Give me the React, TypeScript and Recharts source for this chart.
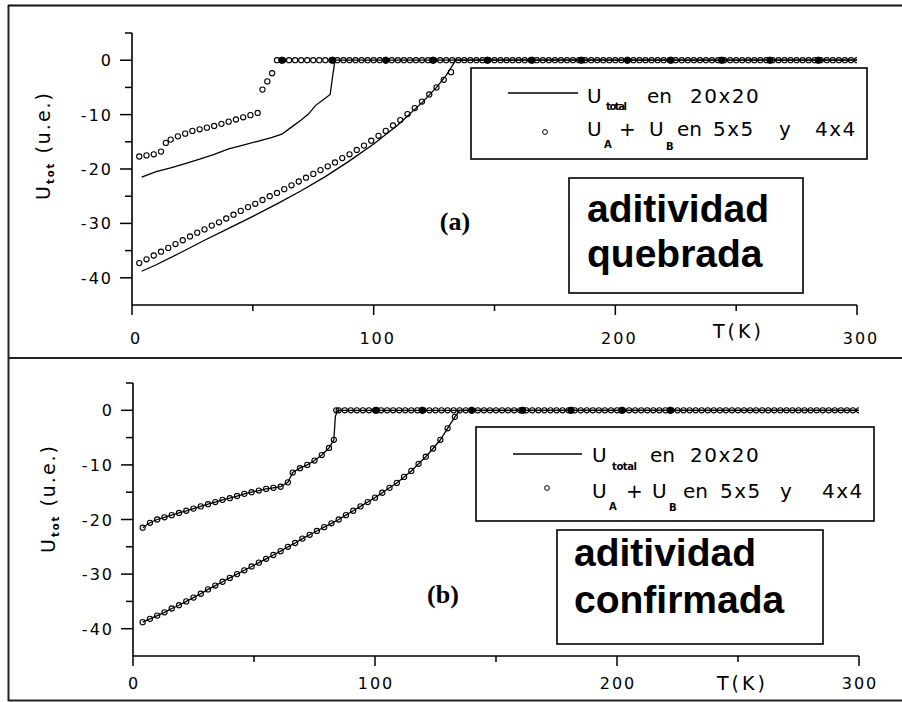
import { ComposedChart, Line, XAxis, YAxis } from 'recharts';

const SANS = '"DejaVu Sans", Verdana, sans-serif';
const BOLD = '"Liberation Sans", Arial, sans-serif';
const SERIF = '"Liberation Serif", "Times New Roman", serif';

type Pt = [number, number];
const rows = (pts: Pt[]) => pts.map(([t, u]) => ({ t, u }));

const xTicks = [0, 50, 100, 150, 200, 250, 300];
const yTicks = [-40, -35, -30, -25, -20, -15, -10, -5, 0, 5];

// temperatures of the points sitting on U = 0
const plateauT = [
  60, 62.5, 65, 67.5, 70, 72.5, 75, 77.5, 80, 82.5, 85, 87.5, 90, 92.5, 95, 97.5,
  100, 102.5, 105, 107.5, 110, 112.5, 115, 117.5, 120, 122.5, 125, 127.5, 130, 132.5,
  135, 137.5, 140, 142.5, 145, 147.5, 150, 152.5, 155, 157.5, 160, 162.5, 165, 167.5,
  170, 172.5, 175, 177.5, 180, 182.5, 185, 187.5, 190, 192.5, 195, 197.5, 200, 202.5,
  205, 207.5, 210, 212.5, 215, 217.5, 220, 222.5, 225, 227.5, 230, 232.5, 235, 237.5,
  240, 242.5, 245, 247.5, 250, 252.5, 255, 257.5, 260, 262.5, 265, 267.5, 270, 272.5,
  275, 277.5, 280, 282.5, 285, 287.5, 290, 292.5, 295, 297.5, 300,
];

// (a) aditividad quebrada
const aSumUpper: Pt[] = [
  [3, -17.7], [6, -17.5], [9, -17.3], [12, -16.8], [14, -15.2], [16, -14.6], [19, -14.0],
  [22, -13.5], [25, -13.0], [28, -12.7], [31, -12.4], [34, -12.1], [37, -11.7], [40, -11.3],
  [43, -10.9], [46, -10.5], [49, -10.1], [52, -9.7], [54, -5.4], [56, -3.9], [58, -2.4],
];
const aSumLower: Pt[] = [
  [3, -37.3], [6, -36.6], [9, -35.9], [12, -35.2], [15, -34.5], [18, -33.8], [21, -33.1],
  [24, -32.4], [27, -31.7], [30, -31.1], [33, -30.4], [36, -29.8], [39, -29.1], [42, -28.4],
  [45, -27.7], [48, -27.0], [51, -26.4], [54, -25.7], [57, -25.0], [60, -24.4], [63, -23.7],
  [66, -23.0], [69, -22.3], [72, -21.6], [75, -20.9], [78, -20.2], [81, -19.5], [84, -18.8],
  [87, -18.0], [90, -17.3], [93, -16.5], [96, -15.7], [99, -14.8], [102, -13.9], [105, -13.0],
  [108, -12.0], [111, -11.0], [114, -9.9], [117, -8.8], [120, -7.6], [123, -6.3], [126, -5.0],
  [129, -3.6], [132, -2.2],
];
const aTotUpper: Pt[] = [
  [4, -21.5], [10, -20.5], [16, -19.8], [22, -19.0], [28, -18.2], [34, -17.3], [40, -16.3],
  [46, -15.6], [52, -14.9], [58, -14.2], [62, -13.6], [66, -12.3], [70, -11.0], [73, -9.9],
  [76, -8.3], [79, -7.3], [82, -6.3], [83, -3.0], [84, 0], [300, 0],
];
const aTotLower: Pt[] = [
  [4, -38.8], [10, -37.6], [20, -35.4], [30, -33.1], [40, -30.9], [50, -28.7], [60, -26.4],
  [70, -24.0], [80, -21.4], [90, -18.5], [100, -15.4], [110, -11.9], [120, -7.8], [126, -5.0],
  [130, -2.8], [134, 0], [300, 0],
];
const aBlobT = [62, 83, 105, 124.5, 147, 165.5, 186, 205, 223, 244, 264, 284];

// (b) aditividad confirmada
const bUpper: Pt[] = [
  [4, -21.5], [7, -20.6], [10, -20.0], [13, -19.6], [16, -19.2], [19, -18.8], [22, -18.4],
  [25, -18.0], [28, -17.6], [31, -17.2], [34, -16.8], [37, -16.4], [40, -16.1], [43, -15.7],
  [46, -15.3], [49, -15.0], [52, -14.7], [55, -14.4], [58, -14.2], [61, -14.0], [64, -13.2],
  [66, -11.4], [69, -10.6], [72, -10.0], [75, -9.2], [78, -8.2], [81, -6.9], [83, -5.4],
];
const bLower: Pt[] = [
  [4, -38.8], [7, -38.2], [10, -37.6], [13, -37.0], [16, -36.3], [19, -35.7], [22, -35.0],
  [25, -34.3], [28, -33.6], [31, -32.8], [34, -32.1], [37, -31.4], [40, -30.7], [43, -30.0],
  [46, -29.3], [49, -28.6], [52, -27.9], [55, -27.2], [58, -26.5], [61, -25.8], [64, -25.0],
  [67, -24.3], [70, -23.5], [73, -22.8], [76, -22.1], [79, -21.4], [82, -20.7], [85, -20.0],
  [88, -19.2], [91, -18.4], [94, -17.6], [97, -16.8], [100, -16.0], [103, -15.1], [106, -14.2],
  [109, -13.3], [112, -12.2], [115, -11.1], [118, -9.8], [121, -8.5], [124, -7.0], [127, -5.4],
  [130, -3.3], [133, -1.2],
];
const bBlobT = [100.5, 119.5, 140, 161, 181, 202, 222];

const aPlateau = plateauT.map((t) => ({ t, u: 0 }));
const bPlateau = [84, ...plateauT.filter((t) => t > 84)].map((t) => ({ t, u: 0 }));

const panelA = {
  top: 0,
  margin: { top: 33, right: 45, bottom: 15, left: 32 },
  labelDx: 4,
  labelDy: 39,
  lines: [rows(aTotUpper), rows(aTotLower)],
  circles: [rows(aSumUpper), rows(aSumLower), aPlateau],
  blobs: aBlobT.map((t) => ({ t, u: 0 })),
};

const panelB = {
  top: 350,
  margin: { top: 33, right: 43, bottom: 14, left: 33 },
  labelDx: 1,
  labelDy: 33,
  lines: [rows([...bUpper, [83.6, -1.2], [84.5, 0], [300, 0]]), rows([...bLower, [135, 0], [300, 0]])],
  circles: [rows(bUpper), rows(bLower), bPlateau],
  blobs: bBlobT.map((t) => ({ t, u: 0 })),
};

const tickFont = { fontFamily: SANS, fontSize: 16, letterSpacing: 2, fill: '#000' };

function Panel({ cfg }: { cfg: typeof panelA }) {
  const XTick = (p: any) => {
    const v = p.payload.value;
    const major = v % 100 === 0;
    return (
      <g>
        <line x1={p.x} x2={p.x} y1={p.y} y2={p.y + (major ? 10 : 6)} stroke="#000" strokeWidth={1.5} />
        {major && (
          <text x={p.x + cfg.labelDx} y={p.y + cfg.labelDy} textAnchor="middle" {...tickFont}>
            {v}
          </text>
        )}
      </g>
    );
  };
  const YTick = (p: any) => {
    const v = p.payload.value;
    const major = v % 10 === 0;
    return (
      <g>
        <line x1={p.x - (major ? 12 : 7)} x2={p.x} y1={p.y} y2={p.y} stroke="#000" strokeWidth={1.5} />
        {major && (
          <text x={p.x - 19} y={p.y + 6} textAnchor="end" {...tickFont}>
            {v}
          </text>
        )}
      </g>
    );
  };

  return (
    <div style={{ position: 'absolute', left: 0, top: cfg.top }}>
      <ComposedChart width={902} height={350} margin={cfg.margin}>
        <XAxis
          type="number"
          dataKey="t"
          domain={[0, 300]}
          ticks={xTicks}
          interval={0}
          allowDataOverflow
          height={30}
          tickSize={0}
          tickMargin={0}
          tickLine={false}
          tick={XTick}
          axisLine={{ stroke: '#000', strokeWidth: 1.6 }}
        />
        <YAxis
          type="number"
          domain={[-45, 5]}
          ticks={yTicks}
          interval={0}
          allowDataOverflow
          width={100}
          tickSize={0}
          tickMargin={0}
          tickLine={false}
          tick={YTick}
          axisLine={{ stroke: '#000', strokeWidth: 1.6 }}
        />
        {cfg.lines.map((d, i) => (
          <Line
            key={'l' + i}
            data={d}
            dataKey="u"
            type="linear"
            stroke="#000"
            strokeWidth={1.3}
            dot={false}
            activeDot={false}
            isAnimationActive={false}
          />
        ))}
        {cfg.circles.map((d, i) => (
          <Line
            key={'c' + i}
            data={d}
            dataKey="u"
            type="linear"
            stroke="none"
            dot={{ r: 2.6, fill: 'none', stroke: '#000', strokeWidth: 1.1 }}
            activeDot={false}
            isAnimationActive={false}
          />
        ))}
        <Line
          data={cfg.blobs}
          dataKey="u"
          stroke="none"
          dot={{ r: 3.2, fill: '#000', stroke: '#000', strokeWidth: 1 }}
          activeDot={false}
          isAnimationActive={false}
        />
      </ComposedChart>
    </div>
  );
}

const legendFont = { fontFamily: SANS, fontSize: 20, fill: '#000' };
const numFont = { ...legendFont, letterSpacing: 1.5 };
const subFont = { fontFamily: SANS, fontSize: 10, fontWeight: 700, fill: '#000' };
const bigFont = { fontFamily: BOLD, fontSize: 39, fontWeight: 700, fill: '#000' };

function Overlay() {
  return (
    <svg
      width={902}
      height={702}
      style={{ position: 'absolute', left: 0, top: 0, pointerEvents: 'none' }}
    >
      {/* frame */}
      <line x1={8.5} x2={8.5} y1={5} y2={701} stroke="#222" strokeWidth={2} />
      <line x1={8} x2={902} y1={5.5} y2={5.5} stroke="#111" strokeWidth={2} />
      <line x1={8} x2={902} y1={358} y2={358} stroke="#222" strokeWidth={2} />
      <line x1={8} x2={902} y1={700.5} y2={700.5} stroke="#222" strokeWidth={2} />

      {/* panel a */}
      <text transform="translate(50,200) rotate(-90)" {...legendFont} fontSize={19} letterSpacing={2}>
        U<tspan {...subFont} dy={4}>tot</tspan>
        <tspan dy={-4}> (u.e.)</tspan>
      </text>
      <text x={455} y={230} textAnchor="middle" fontFamily={SERIF} fontSize={26} fontWeight={700}>
        (a)
      </text>
      <text x={713} y={338} {...legendFont} fontSize={19} letterSpacing={3}>T(K)</text>

      <rect x={471} y={68} width={396} height={91} fill="#fff" stroke="#000" strokeWidth={1.6} />
      <line x1={508} x2={578} y1={93} y2={93} stroke="#000" strokeWidth={1.3} />
      <text x={587} y={103} {...legendFont}>U</text>
      <text x={606} y={110} {...subFont} textLength={21}>total</text>
      <text x={647} y={103} {...legendFont}>en</text>
      <text x={690} y={103} {...numFont}>20x20</text>
      <circle cx={545} cy={132} r={2.4} fill="none" stroke="#000" />
      <text x={587} y={136} {...legendFont}>U</text>
      <text x={604} y={148} {...subFont}>A</text>
      <text x={619} y={136} {...legendFont}>+</text>
      <text x={649} y={136} {...legendFont}>U</text>
      <text x={666} y={150} {...subFont}>B</text>
      <text x={677} y={136} {...legendFont}>en</text>
      <text x={713} y={136} {...numFont}>5x5</text>
      <text x={779} y={136} {...legendFont}>y</text>
      <text x={815} y={136} {...numFont}>4x4</text>

      <rect x={569} y={178} width={234} height={115} fill="#fff" stroke="#000" strokeWidth={1.6} />
      <text x={587} y={222} {...bigFont}>aditividad</text>
      <text x={587} y={267} {...bigFont}>quebrada</text>

      {/* panel b */}
      <text transform="translate(55,553) rotate(-90)" {...legendFont} fontSize={19} letterSpacing={2}>
        U<tspan {...subFont} dy={4}>tot</tspan>
        <tspan dy={-4}> (u.e.)</tspan>
      </text>
      <text x={443} y={603} textAnchor="middle" fontFamily={SERIF} fontSize={26} fontWeight={700}>
        (b)
      </text>
      <text x={717} y={690} {...legendFont} fontSize={19} letterSpacing={3}>T(K)</text>

      <rect x={476} y={427} width={398} height={94} fill="#fff" stroke="#000" strokeWidth={1.6} />
      <line x1={513} x2={582} y1={454} y2={454} stroke="#000" strokeWidth={1.3} />
      <text x={592} y={462} {...legendFont}>U</text>
      <text x={612} y={470} {...subFont} textLength={25}>total</text>
      <text x={650} y={462} {...legendFont}>en</text>
      <text x={690} y={462} {...numFont}>20x20</text>
      <circle cx={547} cy={488} r={2.4} fill="none" stroke="#000" />
      <text x={592} y={498} {...legendFont}>U</text>
      <text x={609} y={510} {...subFont}>A</text>
      <text x={626} y={498} {...legendFont}>+</text>
      <text x={652} y={498} {...legendFont}>U</text>
      <text x={669} y={511} {...subFont}>B</text>
      <text x={683} y={498} {...legendFont}>en</text>
      <text x={720} y={498} {...numFont}>5x5</text>
      <text x={780} y={498} {...legendFont}>y</text>
      <text x={822} y={498} {...numFont}>4x4</text>

      <rect x={557} y={530} width={266} height={114} fill="#fff" stroke="#000" strokeWidth={1.6} />
      <text x={574} y={566} {...bigFont}>aditividad</text>
      <text x={574} y={613} {...bigFont}>confirmada</text>
    </svg>
  );
}

export default function App() {
  return (
    <div
      style={{
        position: 'absolute',
        left: 0,
        top: 0,
        width: 902,
        height: 702,
        background: '#fff',
        overflow: 'hidden',
      }}
    >
      <Panel cfg={panelA} />
      <Panel cfg={panelB} />
      <Overlay />
    </div>
  );
}
